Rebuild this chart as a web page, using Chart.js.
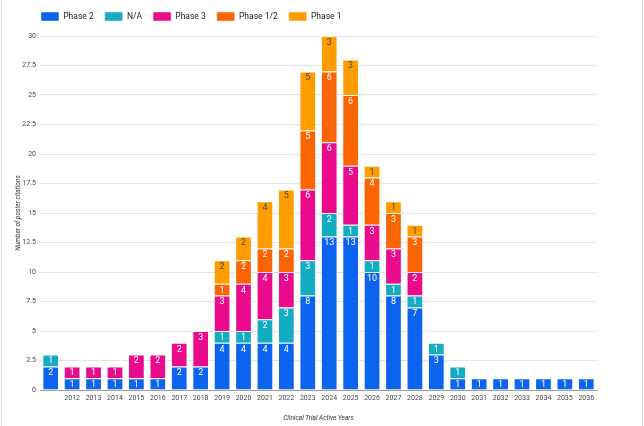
<!DOCTYPE html>
<html>
<head>
<meta charset="utf-8">
<script src="https://cdn.jsdelivr.net/npm/chart.js@4.4.0/dist/chart.umd.min.js"></script>
<style>
body{margin:0;background:#fff;}
#wrap{position:relative;width:644px;height:426px;}
.edge{position:absolute;top:0;bottom:0;width:1px;background:#d9d9d9;}
</style>
</head>
<body>
<div id="wrap">
<canvas id="myChart" width="644" height="426"></canvas>
<div class="edge" style="left:1px"></div>
<div class="edge" style="left:642px"></div>
</div>
<script>
// categories (first bar has no label in the original)
var years = ["", "2012", "2013", "2014", "2015", "2016", "2017", "2018", "2019", "2020",
    "2021", "2022", "2023", "2024", "2025", "2026", "2027", "2028", "2029", "2030",
    "2031", "2032", "2033", "2034", "2035", "2036"];
// series values, null = no segment
var phase2 = [2, 1, 1, 1, 1, 1, 2, 2, 4, 4, 4, 4, 8, 13, 13, 10, 8, 7, 3, 1, 1, 1, 1, 1, 1, 1];
var notApplicable = [1, null, null, null, null, null, null, null, 1, 1, 2, 3, 3, 2, 1, 1, 1, 1, 1, 1, null, null, null, null, null, null];
var phase3 = [null, 1, 1, 1, 2, 2, 2, 3, 3, 4, 4, 3, 6, 6, 5, 3, 3, 2, null, null, null, null, null, null, null, null];
var phase12 = [null, null, null, null, null, null, null, null, 1, 2, 2, 2, 5, 6, 6, 4, 3, 3, null, null, null, null, null, null, null, null];
var phase1 = [null, null, null, null, null, null, null, null, 2, 2, 4, 5, 5, 3, 3, 1, 1, 1, null, null, null, null, null, null, null, null];
// y axis ticks: 0 to 30 every 2.5
var yMax = 30;
var yStep = 2.5;

// draws the value near the top of each stacked segment
var barLabels = {
    id: 'barLabels',
    afterDatasetsDraw: function(chart) {
        var ctx = chart.ctx;
        ctx.save();
        ctx.font = '9px Roboto';
        ctx.textAlign = 'center';
        ctx.textBaseline = 'top';
        chart.data.datasets.forEach(function(ds, i) {
            var meta = chart.getDatasetMeta(i);
            meta.data.forEach(function(bar, j) {
                var v = ds.data[j];
                if (!v) return;
                ctx.fillStyle = ds.labelColor;
                ctx.fillText(v, bar.x, bar.y + 2);
            });
        });
        ctx.restore();
    }
};

// move the legend so it starts over the plot area and sits a bit higher
var legendShift = {
    id: 'legendShift',
    afterLayout: function(chart) {
        var lg = chart.legend;
        lg.left = 30;
        lg.top -= 5;
        lg.bottom -= 5;
    }
};

function makeSet(label, data, color, textColor) {
    return {
        label: label,
        data: data,
        backgroundColor: color,
        borderColor: 'rgba(255,255,255,0.45)',
        borderWidth: 1,
        labelColor: textColor
    };
}

new Chart(document.getElementById('myChart'), {
    type: 'bar',
    data: {
        labels: years,
        datasets: [
            makeSet('Phase 2', phase2, '#0b63ee', '#ffffff'),
            makeSet('N/A', notApplicable, '#13acc3', '#ffffff'),
            makeSet('Phase 3', phase3, '#ea0a8c', '#ffffff'),
            makeSet('Phase 1/2', phase12, '#fa6502', '#ffffff'),
            makeSet('Phase 1', phase1, '#ff9d00', '#4a4a4a')
        ]
    },
    options: {
        responsive: false,
        animation: false,
        layout: { padding: { left: 14, right: 47, top: 6, bottom: 0 } },
        datasets: { bar: { categoryPercentage: 0.78, barPercentage: 1 } },
        plugins: {
            tooltip: { enabled: false },
            legend: {
                position: 'top',
                align: 'start',
                labels: {
                    boxWidth: 18,
                    boxHeight: 9,
                    padding: 11,
                    color: '#222',
                    font: { family: 'Roboto', size: 8.5 }
                }
            }
        },
        scales: {
            x: {
                stacked: true,
                grid: { display: false, drawTicks: false },
                border: { display: true, color: '#9e9e9e' },
                ticks: { autoSkip: false, maxRotation: 0, padding: 4, color: '#444', font: { family: 'Roboto', size: 7 } },
                title: { display: true, text: 'Clinical Trial Active Years', color: '#333', padding: { top: 0, bottom: 4 }, font: { family: 'Roboto', size: 6.5, style: 'italic' } },
                afterFit: function(scale) { scale.height = 36; }
            },
            y: {
                stacked: true,
                min: 0,
                max: yMax,
                grid: { color: '#e3e3e3', drawTicks: false },
                border: { display: false },
                ticks: { stepSize: yStep, padding: 4, color: '#444', font: { family: 'Roboto', size: 7 } },
                title: { display: true, text: 'Number of poster citations', color: '#333', padding: 0, font: { family: 'Roboto', size: 6.5, style: 'italic' } },
                afterFit: function(scale) { scale.width = 26; }
            }
        }
    },
    plugins: [barLabels, legendShift]
});
</script>
</body>
</html>
